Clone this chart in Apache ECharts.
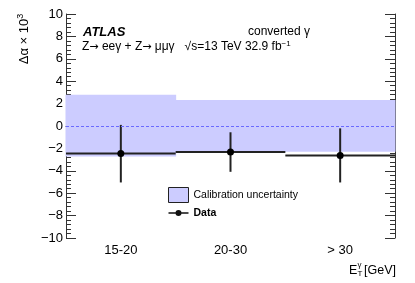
<!DOCTYPE html>
<html><head><meta charset="utf-8">
<script src="https://cdn.jsdelivr.net/npm/echarts@6/dist/echarts.min.js"></script>
<style>html,body{margin:0;padding:0;background:#fff}#c{width:415px;height:283px}</style>
</head><body><div id="c"></div>
<script>
const categories = ['15-20', '20-30', '> 30'];
const bandLow = [-2.72, -2.3, -2.3];
const bandHigh = [2.78, 2.33, 2.33];
const dataValue = [-2.45, -2.33, -2.63];
const errLow = [-5.04, -4.09, -5.04];
const errHigh = [0.1, -0.56, -0.21];
const yTicks = [-10, -8, -6, -4, -2, 0, 2, 4, 6, 8, 10];

const FONT = 'Liberation Sans, Arial, Helvetica, sans-serif';
const FRAME = '#333';
const chart = echarts.init(document.getElementById('c'), null, {renderer: 'canvas'});

const bandData = categories.map((c, i) => [i, bandLow[i], bandHigh[i]]);
const pointData = categories.map((c, i) => [i, dataValue[i], errLow[i], errHigh[i]]);

const fmt = v => v < 0 ? '\u2212' + (-v) : String(v);

chart.setOption({
  animation: false,
  textStyle: {fontFamily: FONT},
  grid: {left: 66, right: 20, top: 14, bottom: 45},
  xAxis: [{
    type: 'category', data: categories, boundaryGap: true, position: 'bottom',
    axisLine: {lineStyle: {color: FRAME, width: 1}},
    axisTick: {inside: true, length: 6, lineStyle: {color: FRAME}},
    axisLabel: {color: '#000', fontSize: 13, margin: 6, fontFamily: FONT},
    splitLine: {show: false}
  }, {
    type: 'category', data: categories, boundaryGap: true, position: 'top',
    axisLine: {lineStyle: {color: FRAME, width: 1}},
    axisTick: {inside: true, length: 6, lineStyle: {color: FRAME}},
    axisLabel: {show: false}, splitLine: {show: false}
  }],
  yAxis: [{
    type: 'value', min: -10, max: 10, interval: 2, position: 'left',
    axisLine: {show: true, lineStyle: {color: FRAME, width: 1}},
    axisTick: {show: true, inside: true, length: 10, lineStyle: {color: FRAME}},
    minorTick: {show: true, splitNumber: 5, length: 5, lineStyle: {color: FRAME}},
    axisLabel: {color: '#000', fontSize: 13, margin: 3, formatter: fmt, fontFamily: FONT},
    splitLine: {show: false}
  }, {
    type: 'value', min: -10, max: 10, interval: 2, position: 'right',
    axisLine: {show: true, lineStyle: {color: FRAME, width: 1}},
    axisTick: {show: true, inside: true, length: 10, lineStyle: {color: FRAME}},
    minorTick: {show: true, splitNumber: 5, length: 5, lineStyle: {color: FRAME}},
    axisLabel: {show: false}, splitLine: {show: false}
  }],
  legend: {
    orient: 'vertical', left: 168, top: 187, padding: 0,
    itemWidth: 20, itemHeight: 15, itemGap: 4.5, itemTextGap: 4,
    textStyle: {fontSize: 10.5, color: '#000', fontFamily: FONT},
    data: [
      {name: 'Calibration uncertainty', icon: 'rect',
       itemStyle: {color: '#ccccff', borderColor: '#222', borderWidth: 1}},
      {name: 'Data', icon: 'path://M0,5.7h20v1.6h-20z M10,3.5a3,3 0 1,1 0,6a3,3 0 1,1 0,-6z',
       itemStyle: {color: '#111', borderWidth: 0}, textStyle: {fontWeight: 'bold'}}
    ]
  },
  series: [{
    name: 'Calibration uncertainty', type: 'custom', xAxisIndex: 0, yAxisIndex: 0,
    itemStyle: {color: '#ccccff'},
    data: bandData,
    renderItem: (params, api) => {
      const w = api.size([1, 0])[0];
      const p1 = api.coord([api.value(0), api.value(2)]);
      const p0 = api.coord([api.value(0), api.value(1)]);
      return {type: 'rect', shape: {x: p1[0] - w / 2 - 0.5, y: p1[1], width: w + 1, height: p0[1] - p1[1]},
              style: {fill: '#ccccff', stroke: null, lineWidth: 0}};
    },
    markLine: {
      silent: true, symbol: 'none', label: {show: false},
      lineStyle: {color: '#6a6aff', type: [3, 2], width: 1},
      data: [{yAxis: 0}]
    },
    z: 1
  }, {
    name: 'Data', type: 'custom', xAxisIndex: 0, yAxisIndex: 0,
    itemStyle: {color: '#111'},
    data: pointData,
    renderItem: (params, api) => {
      const w = api.size([1, 0])[0];
      const c = api.coord([api.value(0), api.value(1)]);
      const lo = api.coord([api.value(0), api.value(2)]);
      const hi = api.coord([api.value(0), api.value(3)]);
      const st = {stroke: '#222', lineWidth: 2};
      return {type: 'group', children: [
        {type: 'line', shape: {x1: c[0] - w / 2, y1: c[1], x2: c[0] + w / 2, y2: c[1]}, style: st},
        {type: 'line', shape: {x1: c[0], y1: lo[1], x2: c[0], y2: hi[1]}, style: st},
        {type: 'circle', shape: {cx: c[0], cy: c[1], r: 3.5}, style: {fill: '#000'}}
      ]};
    },
    z: 3
  }],
  graphic: [
    {type: 'text', left: 83, top: 26, style: {text: 'ATLAS', font: 'italic bold 13px ' + FONT, fill: '#000'}},
    {type: 'text', left: 248, top: 26, style: {text: 'converted \u03b3', font: '12px ' + FONT, fill: '#000'}},
    {type: 'text', left: 82, top: 40, style: {
      text: 'Z{ar|\u2192} ee\u03b3 + Z{ar|\u2192} \u03bc\u03bc\u03b3   \u221as=13 TeV 32.9 fb{sup|\u22121}',
      font: '12px ' + FONT, fill: '#000',
      rich: {
        sup: {fontSize: 8, padding: [0, 0, 6, 0], fontFamily: FONT},
        ar: {fontSize: 11, fontFamily: 'DejaVu Sans'}
      }
    }},
    {type: 'text', x: 24, y: 39, rotation: Math.PI / 2, style: {
      text: '\u0394\u03b1 \u00d7 10{sup|3}', font: '13px ' + FONT, fill: '#000',
      align: 'center', verticalAlign: 'middle',
      rich: {sup: {fontSize: 9, padding: [0, 0, 7, 0], fontFamily: FONT}}
    }},
    {type: 'text', x: 349, y: 264, style: {text: 'E', font: '12.5px ' + FONT, fill: '#000'}},
    {type: 'text', x: 357.5, y: 260.5, style: {text: '\u03b3', font: '8px ' + FONT, fill: '#000'}},
    {type: 'text', x: 357.5, y: 270, style: {text: 'T', font: '8px ' + FONT, fill: '#000'}},
    {type: 'text', x: 364, y: 264, style: {text: '[GeV]', font: '12.5px ' + FONT, fill: '#000'}}
  ]
});
</script></body></html>
